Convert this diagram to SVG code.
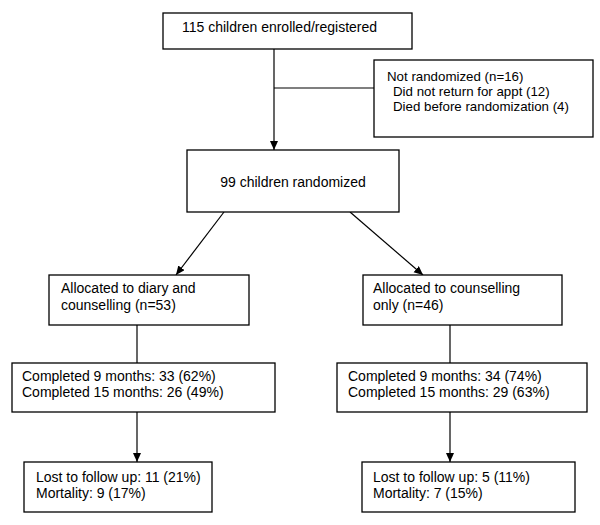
<svg xmlns="http://www.w3.org/2000/svg" width="600" height="525" viewBox="0 0 600 525">
<style>
.box{fill:#fff;stroke:#000;stroke-width:1.3}
.t{font-family:"Liberation Sans",Arial,sans-serif;font-size:14px;fill:#000}
.s{font-size:13.3px}
.c{stroke:#000;stroke-width:1.2;fill:none}
</style>
<defs>
<marker id="ah" markerWidth="10" markerHeight="10" refX="9" refY="4" orient="auto" markerUnits="userSpaceOnUse">
<path d="M0,0 L9,4 L0,8 Z" fill="#000"/>
</marker>
</defs>
<rect width="600" height="525" fill="#fff"/>
<g id="connectors">
<line class="c" x1="274" y1="49" x2="274" y2="150" marker-end="url(#ah)"/>
<line class="c" x1="274" y1="88" x2="374" y2="88"/>
<line class="c" x1="224" y1="212" x2="176" y2="275" marker-end="url(#ah)"/>
<line class="c" x1="350" y1="212" x2="423" y2="275" marker-end="url(#ah)"/>
<line class="c" x1="137" y1="325" x2="137" y2="363"/>
<line class="c" x1="450" y1="325" x2="450" y2="363"/>
<line class="c" x1="137" y1="412" x2="137" y2="462" marker-end="url(#ah)"/>
<line class="c" x1="450" y1="412" x2="450" y2="462" marker-end="url(#ah)"/>
</g>
<g id="enrolled">
<rect class="box" x="163" y="13" width="249" height="36"/>
<text class="t" x="182" y="32">115 children enrolled/registered</text>
</g>
<g id="notrandomized">
<rect class="box" x="374" y="60" width="219" height="77"/>
<text class="t s" x="387" y="81">Not randomized (n=16)</text>
<text class="t s" x="393" y="96">Did not return for appt (12)</text>
<text class="t s" x="393" y="111">Died before randomization (4)</text>
</g>
<g id="randomized">
<rect class="box" x="187" y="150" width="212" height="62"/>
<text class="t" x="293" y="187" text-anchor="middle">99 children randomized</text>
</g>
<g id="alloc-diary">
<rect class="box" x="49" y="275" width="200" height="50"/>
<text class="t" x="61" y="293">Allocated to diary and</text>
<text class="t" x="61" y="310">counselling (n=53)</text>
</g>
<g id="alloc-counsel">
<rect class="box" x="363" y="275" width="199" height="50"/>
<text class="t" x="373" y="293">Allocated to counselling</text>
<text class="t" x="373" y="310">only (n=46)</text>
</g>
<g id="completed-diary">
<rect class="box" x="12" y="363" width="263" height="49"/>
<text class="t" x="22" y="381">Completed 9 months: 33 (62%)</text>
<text class="t" x="22" y="397">Completed 15 months: 26 (49%)</text>
</g>
<g id="completed-counsel">
<rect class="box" x="337" y="363" width="250" height="49"/>
<text class="t" x="348" y="381">Completed 9 months: 34 (74%)</text>
<text class="t" x="348" y="397">Completed 15 months: 29 (63%)</text>
</g>
<g id="lost-diary">
<rect class="box" x="24" y="462" width="188" height="50"/>
<text class="t" x="36" y="482">Lost to follow up: 11 (21%)</text>
<text class="t" x="36" y="498">Mortality: 9 (17%)</text>
</g>
<g id="lost-counsel">
<rect class="box" x="362" y="462" width="213" height="50"/>
<text class="t" x="373" y="482">Lost to follow up: 5 (11%)</text>
<text class="t" x="373" y="498">Mortality: 7 (15%)</text>
</g>
</svg>
